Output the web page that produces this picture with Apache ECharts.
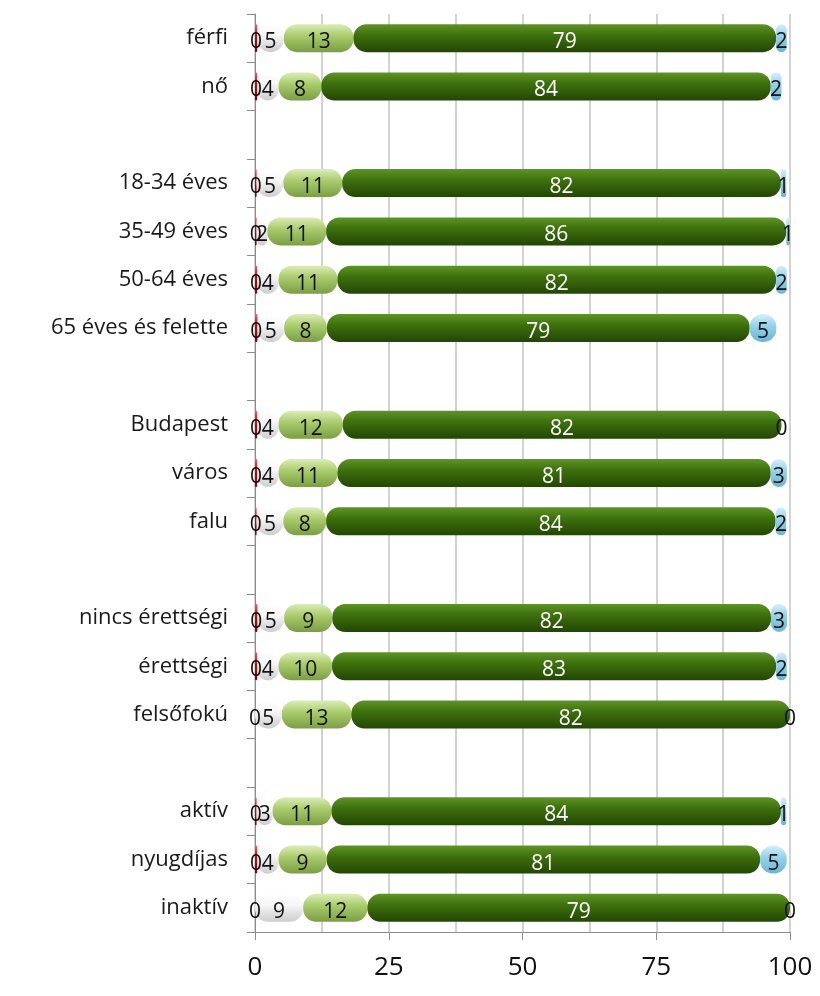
<!DOCTYPE html>
<html>
<head>
<meta charset="utf-8">
<script src="https://cdn.jsdelivr.net/npm/echarts@6/dist/echarts.min.js"></script>
<style>
html, body { margin: 0; padding: 0; background: #fff; }
#chart { width: 820px; height: 996px; }
</style>
</head>
<body>
<div id="chart"></div>
<script>
// rows, blank strings are the gaps between groups
var categories = ['férfi', 'nő', ' ', '18-34 éves', '35-49 éves', '50-64 éves', '65 éves és felette', '  ',
    'Budapest', 'város', 'falu', '   ', 'nincs érettségi', 'érettségi', 'felsőfokú', '    ',
    'aktív', 'nyugdíjas', 'inaktív'];

var redVals   = [0.4, 0.4, null, 0.3, 0.3, 0.4, 0.45, null, 0.4, 0.4, 0.3, null, 0.45, 0.4, 0, null, 0.3, 0.4, 0];
var whiteVals = [5, 4, null, 5, 2, 4, 5, null, 4, 4, 5, null, 5, 4, 5, null, 3, 4, 9];
var lightVals = [13, 8, null, 11, 11, 11, 8, null, 12, 11, 8, null, 9, 10, 13, null, 11, 9, 12];
var darkVals  = [79, 84, null, 82, 86, 82, 79, null, 82, 81, 84, null, 82, 83, 82, null, 84, 81, 79];
var blueVals  = [2, 2, null, 1, 1, 2, 5, null, 0, 3, 2, null, 3, 2, 0, null, 1, 5, 0];

var xTicks = [0, 25, 50, 75, 100];

function grad(c1, c2, c3) {
    return new echarts.graphic.LinearGradient(0, 0, 0, 1, [
        { offset: 0, color: c1 },
        { offset: 0.4, color: c2 },
        { offset: 1, color: c3 }
    ]);
}

function makeSeries(name, data, color, labelColor) {
    return {
        name: name,
        type: 'bar',
        stack: 'total',
        barWidth: 28,
        data: data,
        itemStyle: { color: color, borderRadius: 13 },
        label: {
            show: true,
            position: 'inside',
            offset: [0, 4],
            color: labelColor,
            fontFamily: 'Open Sans',
            fontSize: 21,
            formatter: function (p) { return Math.round(p.value); }
        }
    };
}

var myChart = echarts.init(document.getElementById('chart'));
var option = {
    animation: false,
    grid: { left: 255, right: 30, top: 14, bottom: 64 },
    xAxis: {
        type: 'value',
        min: 0,
        max: 100,
        interval: 25,
        splitNumber: 2,
        axisLine: { show: true, lineStyle: { color: '#8c8c8c' } },
        axisTick: { show: true, length: 8, lineStyle: { color: '#8c8c8c' } },
        axisLabel: {
            margin: 23,
            color: '#111',
            fontFamily: 'Open Sans',
            fontSize: 26,
            formatter: function (v) { return xTicks.indexOf(v) >= 0 ? v : ''; }
        },
        splitLine: { show: true, lineStyle: { color: '#c4c4c4', width: 1.5 } },
        minorTick: { show: false, splitNumber: 2 },
        minorSplitLine: { show: true, lineStyle: { color: '#c4c4c4', width: 1.5 } }
    },
    yAxis: {
        type: 'category',
        inverse: true,
        data: categories,
        axisLine: { show: true, lineStyle: { color: '#8c8c8c' } },
        axisTick: { show: true, length: 8, lineStyle: { color: '#8c8c8c' } },
        axisLabel: {
            margin: 27,
            color: '#1a1a1a',
            fontFamily: 'Open Sans',
            fontSize: 22
        },
        splitLine: { show: false }
    },
    series: [
        makeSeries('red', redVals, grad('#ff5a5a', '#d40000', '#8a0000'), '#111'),
        makeSeries('white', whiteVals, grad('#ffffff', '#f6f6f6', '#cdcdcd'), '#111'),
        makeSeries('light', lightVals, grad('#dcedb8', '#abcd6e', '#7b9e43'), '#111'),
        makeSeries('dark', darkVals, grad('#5f9427', '#3d700c', '#234604'), '#fff'),
        makeSeries('blue', blueVals, grad('#d6f0fa', '#98d3ea', '#69b6d4'), '#111')
    ]
};
myChart.setOption(option);
</script>
</body>
</html>
